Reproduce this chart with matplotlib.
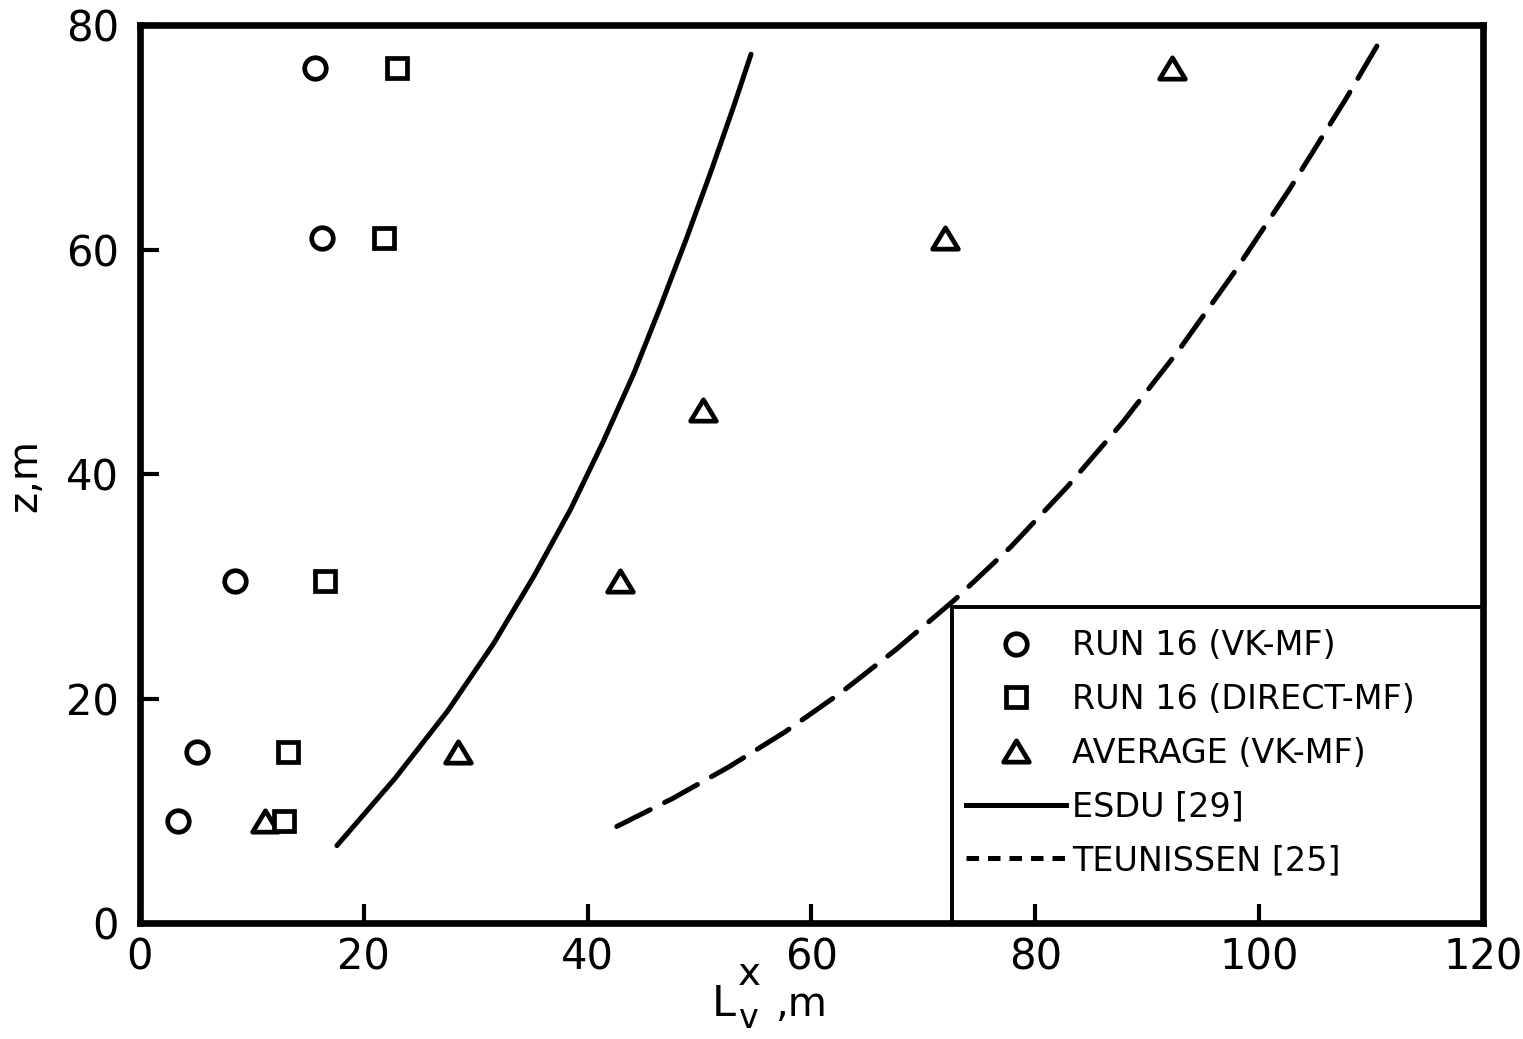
import matplotlib
matplotlib.use("Agg")
import matplotlib.pyplot as plt
from matplotlib.lines import Line2D
from matplotlib.patches import Rectangle
from matplotlib.path import Path

plt.rcParams['font.family'] = ['DejaVu Sans']

# Measurement heights on the tower (m)
heights = [9.1, 15.2, 30.5, 61.0, 76.2]
heights_avg = [9.1, 15.2, 30.5, 45.7, 61.0, 76.2]

# Integral length scale L_v^x (m)
run16_vk = [3.4, 5.1, 8.5, 16.3, 15.6]
run16_direct = [12.9, 13.2, 16.5, 21.8, 23.0]
average_vk = [11.2, 28.4, 42.9, 50.3, 71.9, 92.2]

# Reference curves (x = L_v^x, z = height)
esdu_x = [17.6, 22.8, 27.5, 31.6, 35.2, 38.5, 41.4, 44.1, 46.5, 48.8, 51.0, 53.1, 54.6]
esdu_z = [6.9, 12.9, 18.9, 24.9, 30.9, 36.9, 42.9, 48.9, 54.9, 60.9, 66.9, 72.9, 77.4]
teun_x = [42.6, 47.6, 52.6, 57.6, 62.6, 67.6, 72.8, 77.8, 82.8, 87.8, 92.8, 97.8,
          102.8, 107.8, 111.1]
teun_z = [8.6, 11.1, 13.9, 17.0, 20.5, 24.4, 28.8, 33.5, 38.8, 44.6, 51.0, 58.0,
          65.5, 73.5, 79.1]

labels = ['RUN 16 (VK-MF)', 'RUN 16 (DIRECT-MF)', 'AVERAGE (VK-MF)',
          'ESDU [29]', 'TEUNISSEN [25]']

x_ticks = [0, 20, 40, 60, 80, 100, 120]
y_ticks = [0, 20, 40, 60, 80]

W, H = 1523, 1039
fig = plt.figure(figsize=(W / 100, H / 100), dpi=100)
ax = fig.add_axes([0.0919, 0.1116, 0.8818, 0.8643])
ax.set_axisbelow(False)


def fig_xy(px, py):
    """Pixel position (from top-left) to figure fraction."""
    return px / W, 1 - py / H


lw = 3.6
tri = Path([(-1, -0.83), (1, -0.83), (0, 0.83), (-1, -0.83)],
           [Path.MOVETO, Path.LINETO, Path.LINETO, Path.CLOSEPOLY])
mk = dict(linestyle='none', markerfacecolor='white', markeredgecolor='black',
          markeredgewidth=3.4)

ax.plot(esdu_x, esdu_z, color='black', lw=lw, solid_capstyle='round', zorder=2.0)
ax.plot(teun_x, teun_z, color='black', lw=lw, dashes=(7.5, 3.2),
        dash_capstyle='round', zorder=2.0)
ax.plot(run16_vk, heights, marker='o', markersize=15.5, zorder=2.1, **mk)
ax.plot(average_vk, heights_avg, marker=tri, markersize=18.5, zorder=2.1, **mk)
ax.plot(run16_direct, heights, marker='s', markersize=14, zorder=2.2, **mk)

ax.set_xlim(0, 120)
ax.set_ylim(0, 80)
ax.set_xticks(x_ticks)
ax.set_yticks(y_ticks)
ax.set_xticklabels([str(v) for v in x_ticks])
ax.set_yticklabels([str(v) for v in y_ticks])
ax.tick_params(direction='in', length=14, width=3, labelsize=30,
               top=False, right=False)
ax.tick_params(axis='x', pad=10)
ax.tick_params(axis='y', pad=15)
for s in ax.spines.values():
    s.set_linewidth(4.8)

# Axis titles
ax.text(-0.0856, 0.498, 'z,m', transform=ax.transAxes, rotation=90,
        ha='center', va='center', fontsize=29)
fig.text(*fig_xy(712, 1016), 'L', fontsize=31, ha='left', va='baseline')
fig.text(*fig_xy(738, 985), 'x', fontsize=28, ha='left', va='baseline')
fig.text(*fig_xy(739, 1028), 'v', fontsize=24, ha='left', va='baseline')
fig.text(*fig_xy(776, 1016), ',m', fontsize=29, ha='left', va='baseline')

# Legend box anchored on the lower right corner of the frame
ax.add_patch(Rectangle((0.605, 0.0), 0.395, 0.352, transform=ax.transAxes,
                       facecolor='white', edgecolor='black', lw=2.8, zorder=2.3))

handles = [
    Line2D([], [], marker='o', markersize=15.5, **mk),
    Line2D([], [], marker='s', markersize=14, **mk),
    Line2D([], [], marker=tri, markersize=18.5, **mk),
    Line2D([], [], color='black', lw=lw),
    Line2D([], [], color='black', lw=lw, dashes=(2.5, 1.8)),
]
leg = ax.legend(handles, labels, loc='upper left', bbox_to_anchor=(0.615, 0.327),
                frameon=False, fontsize=24, handlelength=3.0, handletextpad=0.18,
                labelspacing=0.62, borderaxespad=0, borderpad=0)
leg.set_zorder(6)

fig.savefig('out.png', dpi=100, facecolor='white')
